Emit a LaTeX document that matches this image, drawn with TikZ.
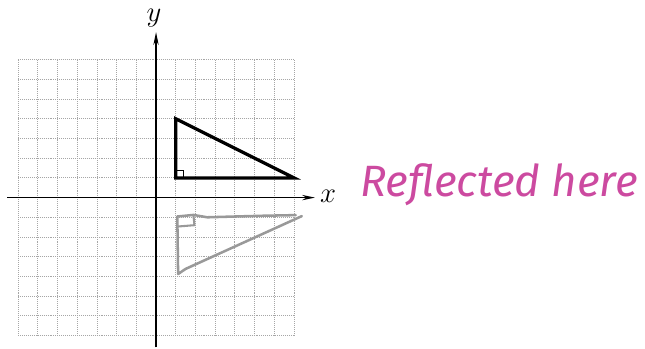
\documentclass[tikz,border=0pt]{standalone}
\usepackage{amssymb,amsmath}
\usepackage{fontspec}
\usepackage{tikz}
\usetikzlibrary{arrows.meta}
\newfontfamily\handfont{Fira Sans}
\definecolor{pen}{RGB}{204,74,160}

\begin{document}
\begin{tikzpicture}[>={Stealth[length=3.9mm,width=1.6mm]}, x=0.6cm, y=0.6cm]
		\def\N{7}
		\useasboundingbox (-7.92,-7.64) rectangle (24.82,10.03);
		% grid and axes
		\draw[gray!70, densely dotted, line width=0.7pt, step=1] (-\N,-\N) grid (\N,\N);
		\coordinate (xl) at (-7.55,0); \coordinate (xr) at (8.07,0);
		\coordinate (yb) at (0,-7.6); \coordinate (yt) at (0,8.4);
		\draw[->, line width=1.4pt] (xl) -- (xr);
		\draw[->, line width=1.4pt] (yb) -- (yt);
		\node (xlab) at (8.73,0.05) {\fontsize{26}{30}\selectfont$x$};
		\node (ylab) at (-0.1,9.1) {\fontsize{26}{30}\selectfont$y$};
		% printed triangle, right angle at (1,1)
		\draw[line width=2.8pt, line join=miter] (1,1) -- (1,4) -- (7,1) -- cycle;
		\draw[line width=0.7pt] (1,1.38) -- (1.38,1.38) -- (1.38,1);
		% hand-drawn reflection
		\draw[gray!80, line width=2.2pt, line cap=round, line join=round]
			(1.08,-0.96) -- (1.9,-0.88) -- (2.6,-1.0) -- (4,-0.96) -- (5.5,-0.92) -- (7.09,-0.89);
		\draw[gray!80, line width=2.2pt, line cap=round, line join=round]
			(1.08,-0.96) -- (1.12,-3.88) -- (1.5,-3.62) -- (7.4,-0.94);
		\draw[gray!80, line width=1.8pt, line cap=round, line join=round]
			(1.08,-1.47) -- (1.95,-1.4) -- (1.9,-0.9);
		\node[anchor=base west, inner sep=0pt, text=pen] (note) at (10.36,0.04)
			{\handfont\itshape\fontsize{38}{44}\selectfont Reflected here};
	\end{tikzpicture}
\end{document}
